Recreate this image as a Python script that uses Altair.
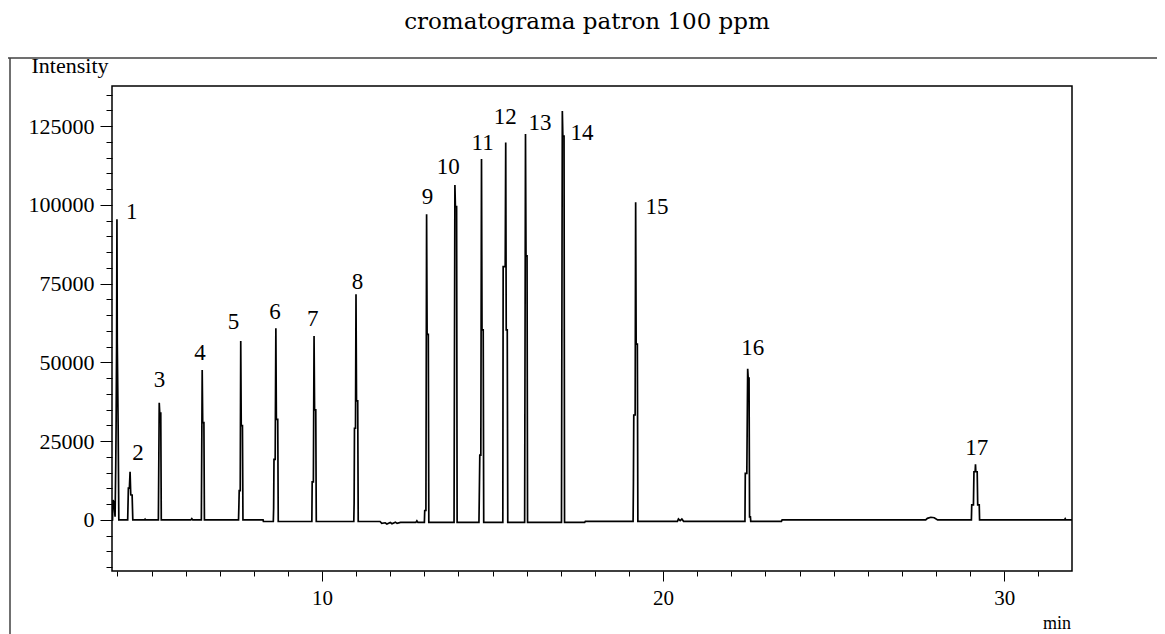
import altair as alt
import pandas as pd

TITLE = "cromatograma patron 100 ppm"

# chromatogram trace (retention time in min, intensity)
trace_time = [
    3.84, 3.855, 3.87, 3.90, 3.93, 3.95, 3.96, 3.975, 3.985, 3.995, 4.02, 4.04,
    4.30, 4.32, 4.35, 4.37, 4.39, 4.43, 4.45,
    4.79, 4.81, 4.83,
    5.20, 5.225, 5.24, 5.27, 5.285,
    6.15, 6.18, 6.21,
    6.46, 6.485, 6.50, 6.535, 6.55,
    7.55, 7.56, 7.57, 7.60, 7.615, 7.63, 7.665, 7.68,
    8.27, 8.28,
    8.57, 8.58, 8.59, 8.625, 8.645, 8.66, 8.70, 8.715,
    9.70, 9.71, 9.745, 9.765, 9.78, 9.815, 9.83,
    10.93, 10.94, 10.95, 10.98, 10.995, 11.01, 11.045, 11.06,
    11.70, 11.75, 11.85, 11.90, 12.00, 12.05, 12.15, 12.20, 12.30,
    12.75, 12.78, 12.81,
    13.00, 13.01, 13.045, 13.065, 13.08, 13.115, 13.13,
    13.87, 13.895, 13.91, 13.945, 13.96,
    14.60, 14.61, 14.625, 14.655, 14.675, 14.69, 14.725, 14.74,
    15.30, 15.31, 15.37, 15.385, 15.40, 15.43, 15.445,
    15.94, 15.965, 15.98, 16.01, 16.025,
    17.02, 17.045, 17.06, 17.095, 17.11,
    17.70, 17.72,
    19.12, 19.13, 19.14, 19.18, 19.195, 19.21, 19.245, 19.26,
    20.42, 20.45, 20.50, 20.55, 20.60,
    22.40, 22.41, 22.455, 22.48, 22.495, 22.52, 22.535, 22.56, 22.57,
    23.47, 23.49,
    27.70, 27.75, 27.85, 27.95, 28.05,
    29.04, 29.05, 29.10, 29.115, 29.15, 29.16, 29.17, 29.21, 29.225, 29.27, 29.28,
    31.77, 31.79, 31.81, 31.99,
]
trace_intensity = [
    0, 0, 6300, 5500, 1000, 17400, 29500, 56000, 95400, 56000, 30000, 0,
    0, 10100, 10100, 15300, 8000, 7900, 0,
    0, 250, 0,
    0, 37200, 33900, 33900, 0,
    0, 400, 0,
    0, 47600, 30900, 30900, 0,
    0, 4100, 9300, 9300, 56800, 29900, 29900, 0,
    0, -500,
    -500, 3800, 19200, 19200, 60800, 31900, 31900, -500,
    -500, 12100, 12100, 58400, 34900, 34900, -500,
    -500, 5400, 29100, 29100, 71600, 37800, 37800, -500,
    -500, -1100, -900, -1300, -800, -1200, -700, -1100, -800,
    -800, -300, -800,
    -800, 3000, 3000, 97000, 58900, 58900, -800,
    -800, 106300, 99400, 99400, -800,
    -800, 7200, 20600, 20600, 114500, 60300, 60300, -800,
    -800, 80400, 80400, 119800, 60300, 60300, -800,
    -800, 122500, 83800, 83800, -800,
    -800, 129800, 121800, 121800, -800,
    -800, -450,
    -450, 12200, 33300, 33300, 100800, 55800, 55800, -450,
    -450, 300, -200, 300, -450,
    -450, 14800, 14800, 48000, 45000, 45000, 1000, 1000, -450,
    -450, 0,
    0, 500, 850, 700, 0,
    0, 4800, 4800, 15300, 15300, 17700, 15300, 15300, 4800, 4800, 0,
    0, 400, 0, 0,
]

# peak labels
peak_names = [str(i) for i in range(1, 18)]
label_time = [4.42, 4.60, 5.23, 6.42, 7.40, 8.62, 9.73, 11.04, 13.09, 13.70,
              14.71, 15.37, 16.39, 17.62, 19.82, 22.63, 29.20]
label_intensity = [97800, 21200, 44400, 53100, 62900, 66100, 63700, 75600, 102400,
                   111900, 119500, 128000, 125900, 122900, 99400, 54700, 22900]

# axes
x_domain = [3.84, 31.99]
y_domain = [-16200, 137700]
x_ticks = list(range(4, 32))
y_ticks = list(range(-15000, 140000, 5000))

trace = pd.DataFrame({"i": range(len(trace_time)), "t": trace_time, "v": trace_intensity})
labels = pd.DataFrame({"name": peak_names, "t": label_time, "v": label_intensity})
one = pd.DataFrame({"a": [0]})

SERIF = "Liberation Serif"

x_enc = alt.X(
    "t:Q",
    scale=alt.Scale(domain=x_domain, nice=False, zero=False),
    axis=alt.Axis(
        title=None,
        values=x_ticks,
        tickCount=100,
        format="d",
        labelExpr="datum.value % 10 === 0 ? datum.label : ''",
        tickSize={"condition": {"test": "datum.value % 10 === 0", "value": 10}, "value": 5},
        tickColor="black",
        tickWidth=1,
        domain=False,
        grid=False,
        labelFont=SERIF,
        labelFontSize=21,
        labelColor="black",
        labelPadding=6,
        labelFlush=False,
        labelOverlap=False,
    ),
)
y_enc = alt.Y(
    "v:Q",
    scale=alt.Scale(domain=y_domain, nice=False, zero=False),
    axis=alt.Axis(
        title=None,
        values=y_ticks,
        tickCount=100,
        format="d",
        labelExpr="datum.value % 25000 === 0 && datum.value >= 0 ? datum.label : ''",
        tickSize={"condition": {"test": "datum.value % 25000 === 0", "value": 12}, "value": 6},
        tickColor="black",
        tickWidth=1,
        domain=False,
        grid=False,
        labelFont=SERIF,
        labelFontSize=22,
        labelColor="black",
        labelPadding=6,
        labelFlush=False,
        labelOverlap=False,
    ),
)

line = alt.Chart(trace).mark_line(color="black", strokeWidth=1.7, clip=True).encode(
    x=x_enc, y=y_enc, order="i:Q"
)

peak_text = alt.Chart(labels).mark_text(
    font=SERIF, fontSize=23, color="black", align="center", baseline="middle"
).encode(x="t:Q", y="v:Q", text="name:N")

title_text = alt.Chart(one).mark_text(
    font="DejaVu Serif", fontSize=23, color="black", align="center", baseline="middle"
).encode(x=alt.value(475), y=alt.value(-64), text=alt.value(TITLE))

y_title = alt.Chart(one).mark_text(
    font=SERIF, fontSize=22, color="black", align="center", baseline="middle"
).encode(x=alt.value(-42), y=alt.value(-20), text=alt.value("Intensity"))

x_title = alt.Chart(one).mark_text(
    font=SERIF, fontSize=18, color="black", align="center", baseline="middle"
).encode(x=alt.value(945), y=alt.value(538), text=alt.value("min"))

top_rule = alt.Chart(one).mark_rule(color="#404040", strokeWidth=1.5).encode(
    x=alt.value(-104), x2=alt.value(1045), y=alt.value(-28)
)
left_rule = alt.Chart(one).mark_rule(color="#404040", strokeWidth=1.5).encode(
    x=alt.value(-102), y=alt.value(-28), y2=alt.value(548)
)

chart = (
    alt.layer(line, peak_text, title_text, y_title, x_title, top_rule, left_rule)
    .properties(
        width=960,
        height=485,
        padding={"left": 104, "top": 78, "right": 85, "bottom": 63},
        autosize=alt.AutoSizeParams(type="none"),
        background="white",
    )
    .configure_view(stroke="black", strokeWidth=1.5)
)

chart.save("out.html", embed_options={"renderer": "svg", "actions": False})
